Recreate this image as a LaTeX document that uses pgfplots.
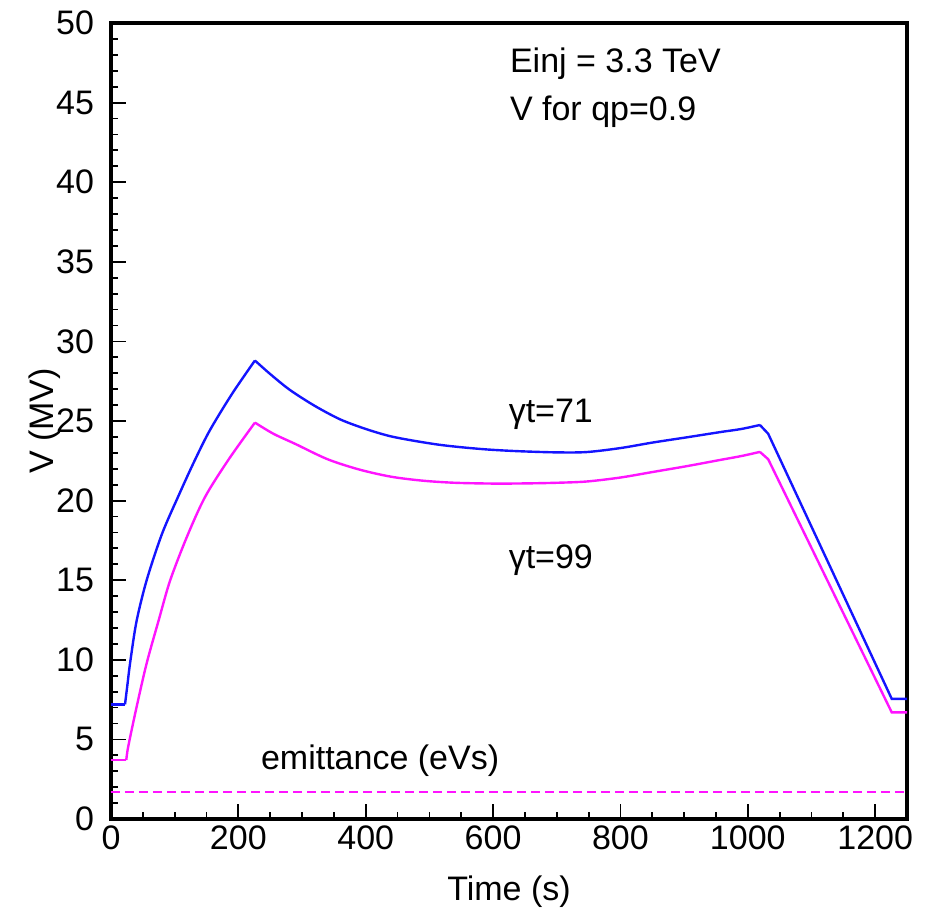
\documentclass[border=0pt]{standalone}
\usepackage{fontspec}
\setmainfont{Liberation Sans}
\usepackage{pgfplots}
\pgfplotsset{compat=1.18}
\definecolor{vblue}{RGB}{20,20,255}
\definecolor{vmag}{RGB}{255,20,255}
\begin{document}
\begin{tikzpicture}
\useasboundingbox (-55.5pt,-46pt) rectangle (407pt,409.5pt);
\begin{axis}[
  at={(0,0)}, anchor=south west,
  scale only axis, width=398pt, height=398pt,
  xmin=0, xmax=1250, ymin=0, ymax=50,
  xtick={0,200,400,600,800,1000,1200},
  ytick={0,5,10,15,20,25,30,35,40,45,50},
  minor x tick num=3, minor y tick num=4,
  xtick pos=bottom, ytick pos=left,
  tick align=inside,
  major tick length=7.5pt, minor tick length=3.5pt,
  every tick/.style={black, line width=0.9pt},
  axis line style={line width=2pt},
  /pgf/number format/assume math mode=true,
  /pgf/number format/1000 sep={},
  tick label style={font=\fontsize{17}{17}\selectfont},
  yticklabel style={xshift=-5pt},
  xlabel={Time (s)},
  ylabel={V (MV)},
  label style={font=\fontsize{17}{17}\selectfont},
  xlabel style={at={(axis description cs:0.5,0)}, anchor=base, yshift=-40.5pt},
  ylabel style={at={([xshift=-29pt]axis description cs:0,0.5)}, anchor=base},
  clip=false,
]
% gamma_t = 71 (blue)
\addplot[vblue, line width=1.2pt] coordinates {(0,7.2) (22,7.2)};
\addplot[vblue, line width=1.2pt, smooth, tension=0.5] coordinates {
 (22,7.2) (26,8.5) (30,9.8) (40,12.4) (56,15.0) (80,17.9) (106,20.3)
 (130,22.4) (155,24.4) (190,26.7) (226,28.8)};
\addplot[vblue, line width=1.2pt, smooth, tension=0.5] coordinates {
 (226,28.8) (250,27.95) (281,26.95) (320,25.95) (360,25.1) (400,24.5) (438,24.05) (477,23.75)
 (517,23.5) (556,23.33) (595,23.2) (642,23.1) (700,23.03) (747,23.05) (800,23.3)
 (851,23.65) (905,23.98) (956,24.3) (990,24.5) (1019,24.75)};
\addplot[vblue, line width=1.2pt] coordinates {
 (1019,24.75) (1032,24.2) (1226,7.55) (1250,7.55)};
% gamma_t = 99 (magenta)
\addplot[vmag, line width=1.2pt] coordinates {(0,3.7) (24,3.7)};
\addplot[vmag, line width=1.2pt, smooth, tension=0.5] coordinates {
 (24,3.7) (27,4.54) (40,7.0) (56,9.78) (75,12.5) (93,15.0) (120,17.8)
 (148,20.25) (185,22.6) (226,24.9)};
\addplot[vmag, line width=1.2pt, smooth, tension=0.5] coordinates {
 (226,24.9) (255,24.2) (290,23.55) (340,22.6) (390,21.95) (440,21.5) (490,21.25)
 (540,21.12) (600,21.07) (650,21.08) (700,21.12) (747,21.2) (800,21.45)
 (851,21.8) (905,22.17) (956,22.55) (990,22.8) (1019,23.06)};
\addplot[vmag, line width=1.2pt] coordinates {
 (1019,23.06) (1032,22.6) (1226,6.7) (1250,6.7)};
% emittance
\addplot[vmag, line width=0.8pt, dash pattern=on 4.5pt off 2.5pt] coordinates {(0,1.68) (1250,1.68)};
\node[anchor=base west, font=\fontsize{17}{17}\selectfont, inner sep=0pt] at (axis cs:626,46.88) {Einj = 3.3 TeV};
\node[anchor=base west, font=\fontsize{17}{17}\selectfont, inner sep=0pt] at (axis cs:626,43.86) {V for qp=0.9};
\node[anchor=base west, font=\fontsize{17}{17}\selectfont, inner sep=0pt] at (axis cs:624,24.9) {γt=71};
\node[anchor=base west, font=\fontsize{17}{17}\selectfont, inner sep=0pt] at (axis cs:624,15.75) {γt=99};
\node[anchor=base west, font=\fontsize{17}{17}\selectfont, inner sep=0pt] at (axis cs:235,3.08) {emittance (eVs)};
\end{axis}
\end{tikzpicture}
\end{document}
